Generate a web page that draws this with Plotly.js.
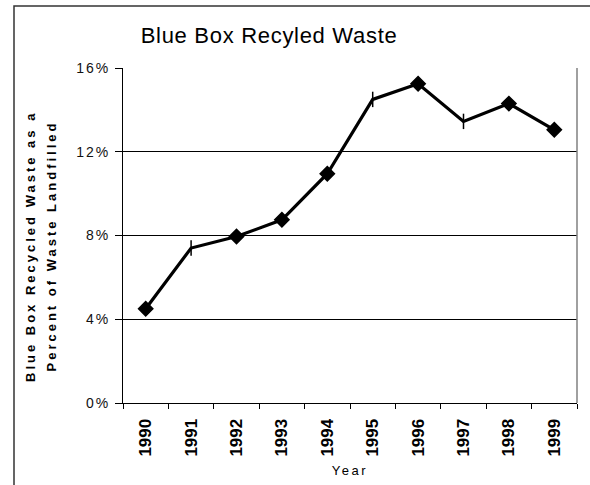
<!DOCTYPE html>
<html>
<head>
<meta charset="utf-8">
<script src="https://cdn.plot.ly/plotly-3.0.1.min.js"></script>
<style>
  html, body { margin: 0; padding: 0; background: #fff; }
  #chart { width: 590px; height: 485px; }
  /* Excel-style wide lettering */
  #chart .gtitle { letter-spacing: 0.7px; }
  #chart .ytick text { letter-spacing: 2px; }
  #chart .xtitle { letter-spacing: 2.5px; }
  #chart .annotation-text { letter-spacing: 3px; }
</style>
</head>
<body>
<div id="chart"></div>
<script>
// Blue Box recycled waste as a percentage of waste landfilled, 1990-1999
const years = ['1990', '1991', '1992', '1993', '1994', '1995', '1996', '1997', '1998', '1999'];
const recycledPct = [4.5, 7.4, 7.95, 8.75, 10.95, 14.5, 15.25, 13.45, 14.3, 13.05];
const markerSymbols = ['diamond', 'line-ns', 'diamond', 'diamond', 'diamond', 'line-ns', 'diamond', 'line-ns', 'diamond', 'diamond'];
const yTickValues = [0, 4, 8, 12, 16];
const yTickLabels = ['0%', '4%', '8%', '12%', '16%'];
const yTitleLines = ['Blue Box Recycled Waste as a', 'Percent of Waste Landfilled'];

const font = 'Liberation Sans, Arial, sans-serif';

// plot area in pixels, used to place the rotated y-axis title lines
const plotLeft = 123, plotTop = 68, plotW = 454, plotH = 335;
const px2paperX = px => (px - plotLeft) / plotW;
const px2paperY = py => (plotTop + plotH - py) / plotH;

const trace = {
  x: years,
  y: recycledPct,
  type: 'scatter',
  mode: 'lines+markers',
  line: { color: '#000', width: 3.2 },
  marker: {
    symbol: markerSymbols,
    size: 11,
    color: '#000',
    line: { color: '#000', width: 1.5 }
  },
  hoverinfo: 'skip'
};

const yTitleAnnotations = yTitleLines.map((line, i) => ({
  text: line,
  textangle: -90,
  xref: 'paper', yref: 'paper',
  x: px2paperX(i === 0 ? 31 : 52), y: px2paperY(246),
  xanchor: 'center', yanchor: 'middle',
  showarrow: false,
  font: { family: font, size: 13, color: '#000', weight: 'bold' }
}));

const layout = {
  width: 590,
  height: 485,
  margin: { l: plotLeft, r: 590 - plotLeft - plotW, t: plotTop, b: 485 - plotTop - plotH },
  paper_bgcolor: '#fff',
  plot_bgcolor: '#fff',
  showlegend: false,
  title: {
    text: 'Blue Box Recyled Waste',
    font: { family: font, size: 22, color: '#000' },
    xref: 'container', x: 0.456, xanchor: 'center',
    yref: 'container', y: 0.928, yanchor: 'middle'
  },
  xaxis: {
    type: 'category',
    range: [-0.5, 9.5],
    showline: true, linecolor: '#000', linewidth: 1,
    ticks: 'outside', tickson: 'boundaries', ticklen: 5, tickcolor: '#000', tickwidth: 1,
    tickangle: -90,
    ticklabelstandoff: 8,
    tickfont: { family: font, size: 17, color: '#000', weight: 'bold' },
    showgrid: false, zeroline: false,
    title: { text: 'Year', font: { family: font, size: 13, color: '#000' }, standoff: 10 }
  },
  yaxis: {
    range: [0, 16],
    tickmode: 'array',
    tickvals: yTickValues,
    ticktext: yTickLabels,
    showline: true, linecolor: '#000', linewidth: 1,
    ticks: 'outside', ticklen: 7, tickcolor: '#000', tickwidth: 1,
    ticklabelstandoff: 2,
    tickfont: { family: font, size: 14, color: '#111' },
    showgrid: true, gridcolor: '#000', gridwidth: 1,
    zeroline: false
  },
  annotations: yTitleAnnotations,
  shapes: [
    // right edge of the plot area
    { type: 'line', xref: 'paper', yref: 'paper', x0: 1, x1: 1, y0: 0, y1: 1,
      line: { color: '#808080', width: 1.5 } },
    // outer chart frame
    { type: 'rect', xref: 'paper', yref: 'paper',
      x0: px2paperX(14), x1: px2paperX(610),
      y0: px2paperY(500), y1: px2paperY(6),
      line: { color: '#333', width: 1.5 }, fillcolor: 'rgba(0,0,0,0)', layer: 'below' }
  ]
};

Plotly.newPlot('chart', [trace], layout, { staticPlot: true, displayModeBar: false });
</script>
</body>
</html>
